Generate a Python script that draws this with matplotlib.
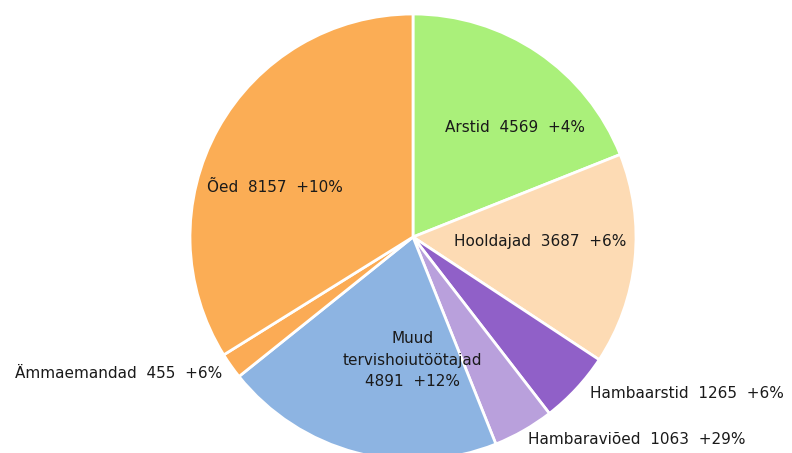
import matplotlib
matplotlib.use("Agg")
import matplotlib.pyplot as plt
import numpy as np

categories = ["Arstid", "Hooldajad", "Hambaarstid", "Hambaraviõed",
              "Muud\ntervishoiutöötajad", "Ämmaemandad", "Õed"]
values = [4569, 3687, 1265, 1063, 4891, 455, 8157]
changes = ["+4%", "+6%", "+6%", "+29%", "+12%", "+6%", "+10%"]
colors = ["#aaf07a", "#fddbb4", "#9060c8", "#b9a0dc", "#8db4e2", "#fbab55", "#fbad55"]

fig = plt.figure(figsize=(7.92, 4.53), dpi=100)
ax = fig.add_axes([0, 0, 1, 1])
wedges, _ = ax.pie(values, colors=colors, startangle=90, counterclock=False,
                   radius=1.0, wedgeprops=dict(edgecolor="white", linewidth=2))

# label positions (in pie-radius units) and alignment
label_pos = [(0.457, 0.493, "center"), (0.570, -0.018, "center"),
             (0.794, -0.704, "left"), (0.516, -0.906, "left"),
             (-0.004, -0.552, "center"), (-0.857, -0.610, "right"),
             (-0.619, 0.224, "center")]
for cat, v, ch, (x, y, ha) in zip(categories, values, changes, label_pos):
    if "\n" in cat:
        txt = f"{cat}\n{v}  {ch}"
    else:
        txt = f"{cat}  {v}  {ch}"
    ax.text(x, y, txt, ha=ha, va="center", fontsize=11, color="#1a1a1a",
            multialignment="center", linespacing=1.55)

ax.set_aspect("auto")
ax.set_xlim(-413 / 223, (792 - 413) / 223)
ax.set_ylim(-216 / 223, 237 / 223)
ax.axis("off")
fig.savefig("out.png", dpi=100)
